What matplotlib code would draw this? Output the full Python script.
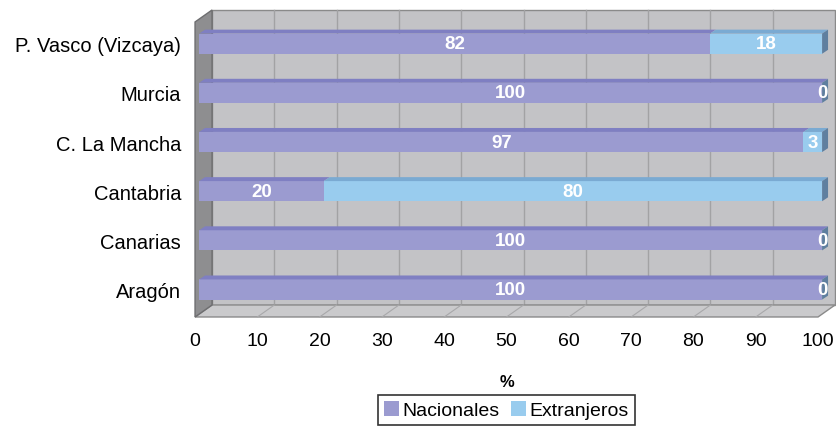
import matplotlib.pyplot as plt
from matplotlib.patches import Polygon, Patch

# Datos (de abajo hacia arriba)
regiones = ['Aragón', 'Canarias', 'Cantabria', 'C. La Mancha', 'Murcia', 'P. Vasco (Vizcaya)']
nacionales = [100, 100, 20, 97, 100, 82]
extranjeros = [0, 0, 80, 3, 0, 18]
xticks = list(range(0, 101, 10))

plt.rcParams['font.family'] = ['Liberation Sans', 'DejaVu Sans']

fig = plt.figure(figsize=(8.36, 4.27), dpi=100)
ax = fig.add_axes([0.2333, 0.2553, 0.7452, 0.6909])
ax.set_xlim(0, 100)
ax.set_ylim(0, len(regiones))

# profundidad del efecto 3D (en unidades de datos)
dxw, dyw = 2.73, 0.244
bx, by = 0.24 * dxw, 0.24 * dyw
bdx, bdy = 0.35 * dxw, 0.33 * dyw
alto = 0.41
n = len(regiones)

# pared del fondo
ax.add_patch(Polygon([(dxw, dyw), (100 + dxw, dyw), (100 + dxw, n + dyw), (dxw, n + dyw)],
                     closed=True, fc='#C3C3C6', ec='#8A8A8A', lw=1, clip_on=False, zorder=0))
for x in xticks[1:-1]:
    ax.plot([x + dxw, x + dxw], [dyw, n + dyw], color='#A2A2A4', lw=1, clip_on=False, zorder=0.5)
# suelo
ax.add_patch(Polygon([(0, 0), (100, 0), (100 + dxw, dyw), (dxw, dyw)],
                     closed=True, fc='#CACACC', ec='#8A8A8A', lw=1, clip_on=False, zorder=0.6))
for x in xticks[1:-1]:
    ax.plot([x, x + dxw], [0, dyw], color='#A8A8AA', lw=0.8, clip_on=False, zorder=0.7)
# pared izquierda
ax.add_patch(Polygon([(0, 0), (dxw, dyw), (dxw, n + dyw), (0, n)],
                     closed=True, fc='#8E8E90', ec='#6E6E70', lw=1, clip_on=False, zorder=0.8))

colores = {'nac': ('#9B9BD0', '#7F7FC2'), 'ext': ('#99CCEE', '#7AAAD2')}
lado = '#5F7F9F'

for i in range(n - 1, -1, -1):
    yc = i + 0.5
    y0 = yc - alto / 2 + by
    y1 = yc + alto / 2 + by
    left = 0
    for val, key in ((nacionales[i], 'nac'), (extranjeros[i], 'ext')):
        front, top = colores[key]
        ax.barh(yc + by, val, left=left + bx, height=alto, color=front, lw=0, zorder=2, clip_on=False)
        ax.add_patch(Polygon([(left + bx, y1), (left + val + bx, y1),
                              (left + val + bx + bdx, y1 + bdy), (left + bx + bdx, y1 + bdy)],
                             closed=True, fc=top, lw=0, zorder=2, clip_on=False))
        ax.text(left + val / 2 + bx, yc + by, str(val), color='white', fontsize=13.5,
                fontweight='bold', ha='center', va='center', zorder=4, clip_on=False)
        left += val
    # cara lateral derecha
    ax.add_patch(Polygon([(left + bx, y0), (left + bx + bdx, y0 + bdy),
                          (left + bx + bdx, y1 + bdy), (left + bx, y1)],
                         closed=True, fc=lado, lw=0, zorder=2, clip_on=False))

ax.set_yticks([i + 0.5 + by for i in range(n)])
ax.set_yticklabels(regiones, fontsize=14.5)
ax.set_xticks(xticks)
ax.set_xticklabels([str(x) for x in xticks], fontsize=14)
ax.tick_params(axis='both', length=0)
ax.tick_params(axis='x', pad=11)
ax.tick_params(axis='y', pad=10)
for s in ax.spines.values():
    s.set_visible(False)
ax.set_xlabel('%', fontsize=12, fontweight='bold', labelpad=18)

handles = [Patch(fc=colores['nac'][0]), Patch(fc=colores['ext'][0])]
leg = fig.legend(handles, ['Nacionales', 'Extranjeros'], loc='lower center',
                 bbox_to_anchor=(0.606, 0.0), ncol=2, fontsize=14, frameon=True,
                 fancybox=False, edgecolor='black', handlelength=0.75, handleheight=0.75,
                 handletextpad=0.2, columnspacing=0.6, borderpad=0.3, borderaxespad=0.05)
leg.get_frame().set_linewidth(1.2)

fig.savefig('out.png', dpi=100)
